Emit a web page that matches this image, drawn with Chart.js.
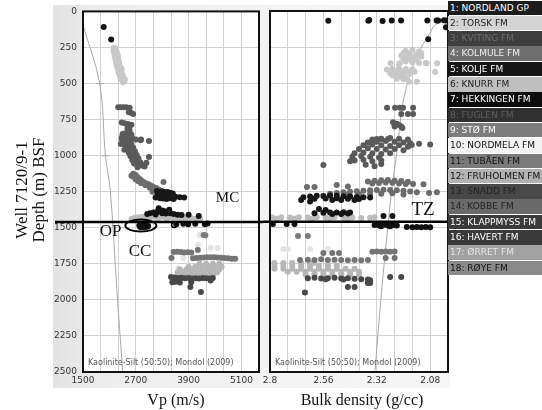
<!DOCTYPE html>
<html>
<head>
<meta charset="utf-8">
<script src="https://cdn.jsdelivr.net/npm/chart.js@4.4.1/dist/chart.umd.min.js"></script>
<style>
  html, body { margin: 0; padding: 0; }
  body { width: 542px; height: 410px; position: relative; overflow: hidden; background: #ffffff; }
  #bg { position: absolute; left: 53px; top: 5px; width: 397px; height: 383px;
        background: linear-gradient(to right, #e2e2e2 0px, #ececec 40px, #f3f3f3 220px, #f6f6f6 397px); }
  #cLeft { position: absolute; left: 0; top: 0; }
  #cRight { position: absolute; left: 263px; top: 0; }
  .ttl { position: absolute; font-family: "Liberation Serif", "Times New Roman", serif; font-size: 17px; color: #111; white-space: nowrap; }
  #legend { position: absolute; left: 448px; top: 0; width: 94px; }
  .lg { position: absolute; left: 0; width: 94px; font-family: "DejaVu Sans", Verdana, sans-serif; font-size: 9px;
        box-sizing: border-box; padding-left: 2px; white-space: nowrap; overflow: hidden; }
</style>
</head>
<body>
<div id="bg"></div>
<canvas id="cLeft" width="263" height="410"></canvas>
<canvas id="cRight" width="279" height="410"></canvas>
<div class="ttl" id="tWell" style="left:22px; top:190px; transform: translate(-50%,-50%) rotate(-90deg);">Well 7120/9-1</div>
<div class="ttl" id="tDepth" style="left:39px; top:190px; transform: translate(-50%,-50%) rotate(-90deg);">Depth (m) BSF</div>
<div class="ttl" style="left:176px; top:400px; transform: translate(-50%,-50%); font-size:16px;">Vp (m/s)</div>
<div class="ttl" style="left:362px; top:400px; transform: translate(-50%,-50%); font-size:16px;">Bulk density (g/cc)</div>
<div id="legend"></div>
<script>
// ---------------- axes / ticks ----------------
const depthTicks = [0, 250, 500, 750, 1000, 1250, 1500, 1750, 2000, 2250, 2500];
const vpGrid = [1500, 1900, 2300, 2700, 3100, 3500, 3900, 4300, 4700, 5100, 5500];
const vpLabels = [1500, 2700, 3900, 5100];
const rhoGrid = [2.0, 2.08, 2.16, 2.24, 2.32, 2.4, 2.48, 2.56, 2.64, 2.72, 2.8];
const rhoLabels = [2.8, 2.56, 2.32, 2.08];
const boundaryDepth = 1460;

// ---------------- legend ----------------
const formationNames = ['1: NORDLAND GP', '2: TORSK FM', '3: KVITING FM', '4: KOLMULE FM', '5: KOLJE FM',
  '6: KNURR FM', '7: HEKKINGEN FM', '8: FUGLEN FM', '9: STØ FM', '10: NORDMELA FM', '11: TUBÅEN FM',
  '12: FRUHOLMEN FM', '13: SNADD FM', '14: KOBBE FM', '15: KLAPPMYSS FM', '16: HAVERT FM', '17: ØRRET FM', '18: RØYE FM'];
const legendFill = ['#1c1c1c', '#d4d4d4', '#3e3e3e', '#6e6e6e', '#161616', '#bfbfbf', '#0c0c0c', '#303030', '#7c7c7c',
  '#f2f2f2', '#7a7a7a', '#b2b2b2', '#484848', '#6a6a6a', '#3a3a3a', '#3a3a3a', '#a2a2a2', '#8a8a8a'];
const legendInk = ['#ffffff', '#222222', '#6e6e6e', '#eeeeee', '#ffffff', '#222222', '#ffffff', '#5e5e5e', '#ffffff',
  '#111111', '#111111', '#111111', '#222222', '#222222', '#ffffff', '#ffffff', '#e4e4e4', '#111111'];

// ---------------- data: [Vp (m/s), depth (m)] and [density (g/cc), depth (m)] ----------------
const nordlandVp = [[1970,109],[2140,194]];
const nordlandRho = [[2.538,67],[2.358,67],[2.354,62],[2.294,70],[2.253,66],[2.211,66],[2.093,65],[2.051,66],[2.044,66],[2.018,64],[2.009,66],[2.009,113],[2.089,196]];

const torskVp = [[2200,252],[2240,258],[2190,268],[2230,275],[2270,282],[2210,290],[2250,298],[2290,305],[2220,312],[2260,320],
  [2300,328],[2240,336],[2280,344],[2320,350],[2250,356],[2290,362],[2270,378],[2310,385],[2350,392],[2290,400],[2330,408],
  [2370,415],[2310,424],[2350,432],[2400,440],[2340,448],[2380,456],[2420,462],[2360,470],[2400,478],[2440,485],[2410,492],
  [2330,372],[2380,400],[2450,470]];
const torskRho = [[2.19,275],[2.16,270],[2.13,280],[2.20,290],[2.17,295],[2.14,300],[2.12,290],[2.21,310],[2.18,315],[2.15,320],
  [2.12,315],[2.20,330],[2.17,335],[2.14,340],[2.16,355],[2.19,350],[2.13,360],[2.22,365],[2.258,362],[2.216,362],[2.096,362],
  [2.049,362],[2.058,422],[2.175,490],[2.14,490],[2.10,360],[2.25,400],[2.22,398],[2.19,402],[2.16,405],[2.24,415],[2.21,420],
  [2.18,418],[2.15,420],[2.26,430],[2.23,435],[2.20,438],[2.17,432],[2.24,450],[2.21,455],[2.19,460],[2.23,470],[2.20,472],
  [2.25,445],[2.275,405]];

const kvitingVp = [[2300,665],[2360,665],[2420,665],[2480,665],[2560,668],[2540,700],[2600,705],[2640,712],[2380,770],[2440,775],
  [2520,780],[2600,785],[2560,800],[2510,810],[2560,825],[2540,840],[2600,855],[2570,870],[2620,880],[2380,885],[2700,888],
  [2820,888],[2400,850],[2460,845],[2520,860],[2380,875],[2440,880],[2500,885],[2560,895],[2420,905],[2480,910],[2540,915],
  [2600,920],[2460,930],[2520,935],[2580,940],[2640,945],[2500,955],[2560,960],[2620,965],[2680,970],[2540,980],[2600,985],
  [2660,990],[2720,995],[2580,1005],[2640,1010],[2700,1015],[2760,1020],[2620,1030],[2680,1035],[2740,1040],[2800,1045],
  [2660,1055],[2720,1060],[2780,1065],[2860,1070],[2740,1080],[2940,1050],[3000,1010],[3000,898],[2810,893],[2900,1075],
  [2360,920],[2440,960]];
const kvitingRho = [[2.274,670],[2.238,670],[2.216,670],[2.202,670],[2.157,670],[2.21,713],[2.18,713],[2.157,713],[2.247,770],
  [2.23,780],[2.22,790],[2.21,800],[2.205,810],[2.24,800],[2.32,887],[2.30,887],[2.27,887],[2.34,890],[2.30,885],[2.26,880],
  [2.22,885],[2.18,890],[2.36,910],[2.32,905],[2.28,900],[2.24,905],[2.20,910],[2.17,915],[2.38,930],[2.34,925],[2.30,930],
  [2.26,935],[2.22,930],[2.18,940],[2.40,955],[2.36,950],[2.32,955],[2.28,960],[2.24,955],[2.20,965],[2.42,985],[2.38,980],
  [2.34,985],[2.30,990],[2.26,985],[2.43,1010],[2.39,1005],[2.35,1010],[2.31,1015],[2.42,1035],[2.38,1030],[2.34,1040],
  [2.30,1035],[2.37,1065],[2.33,1075],[2.30,1060],[2.13,920],[2.08,925],[2.163,928],[2.56,1066],[2.44,1040]];

const kolmuleVp = [[2640,1125],[2700,1135],[2660,1150],[2740,1150],[2780,1160],[2700,1165],[2820,1170],[2760,1178],[2860,1180],
  [2900,1188],[2820,1192],[2960,1195],[3000,1200],[2920,1205],[3060,1210],[3100,1218],[3020,1222],[3160,1225],[3220,1235],
  [3120,1240],[3280,1245],[3340,1252],[3200,1255],[3400,1260],[3460,1266],[3540,1270],[3330,1182],[2600,1140],[3080,1250]];
const kolmuleRho = [[2.36,1180],[2.33,1175],[2.30,1172],[2.27,1170],[2.24,1175],[2.21,1178],[2.18,1182],[2.34,1195],[2.31,1192],
  [2.28,1188],[2.25,1190],[2.22,1195],[2.19,1198],[2.53,1265],[2.50,1260],[2.47,1255],[2.44,1252],[2.41,1248],[2.38,1245],
  [2.35,1242],[2.32,1240],[2.29,1238],[2.26,1240],[2.23,1242],[2.20,1245],[2.17,1250],[2.14,1255],[2.45,1275],[2.40,1270],
  [2.35,1268],[2.30,1265],[2.25,1262],[2.20,1270],[2.157,1198],[2.11,1200],[2.085,1260],[2.05,1255],[2.634,1219],[2.60,1219],
  [2.50,1205],[2.45,1215]];

const koljeVp = [[3180,1245],[3240,1250],[3300,1248],[3360,1255],[3420,1252],[3480,1258],[3540,1262],[3200,1270],[3260,1272],
  [3320,1275],[3380,1278],[3440,1280],[3500,1282],[3600,1285],[3700,1288],[3800,1290],[3250,1295],[3320,1298],[3400,1300],
  [3470,1296],[3150,1290],[3560,1300]];
const koljeRho = [[2.65,1290],[2.62,1285],[2.59,1280],[2.56,1282],[2.53,1278],[2.50,1280],[2.47,1283],[2.44,1285],[2.41,1288],
  [2.38,1290],[2.35,1292],[2.60,1300],[2.55,1298],[2.50,1296],[2.45,1300],[2.40,1302],[2.66,1309],[2.52,1309],[2.48,1309],
  [2.42,1309],[2.58,1371],[2.62,1320]];

const knurrVp = [[2680,1430],[2760,1428],[2840,1425],[2920,1422],[3000,1420],[3080,1422],[3160,1425],[3240,1428],[3320,1425],
  [3400,1430],[3480,1428],[3560,1432],[3640,1430],[3720,1435],[3800,1432],[3880,1436],[3960,1434],[4060,1438],[4160,1436],
  [2800,1438],[3000,1436],[3200,1438],[3400,1440],[2600,1440]];
const knurrRho = [[2.79,1430],[2.75,1428],[2.71,1430],[2.67,1428],[2.63,1430],[2.59,1428],[2.55,1432],[2.51,1430],[2.47,1432],
  [2.43,1430],[2.39,1433],[2.35,1432],[2.77,1438],[2.69,1437],[2.61,1438],[2.53,1437],[2.45,1438],[2.33,1428]];

const hekkingenVp = [[2960,1405],[3020,1400],[3100,1395],[3180,1390],[3220,1365],[3240,1385],[3300,1380],[3360,1385],[3420,1390],
  [3300,1400],[3380,1402],[3480,1400],[3560,1405],[3650,1410],[3740,1412],[3900,1410],[4130,1418],[3150,1408],[3460,1375]];
const hekkingenRho = [[2.60,1400],[2.55,1378],[2.56,1398],[2.53,1396],[2.50,1395],[2.47,1394],[2.44,1396],[2.52,1405],[2.48,1405],
  [2.45,1403],[2.29,1420],[2.25,1420]];

const fuglenVp = [[2780,1485],[2830,1480],[2880,1482],[2930,1485],[2980,1488],[2800,1495],[2860,1495],[2920,1495],[2960,1492],
  [2850,1488],[2900,1490],[3620,1475],[3780,1472],[3890,1475],[4050,1472],[4270,1475],[4330,1470]];
const fuglenRho = [[2.33,1482],[2.31,1485],[2.29,1482],[2.27,1486],[2.25,1483],[2.23,1485],[2.185,1495],[2.16,1497],[2.14,1495],
  [2.12,1498],[2.10,1496],[2.08,1497],[2.30,1490],[2.26,1490],[2.787,1475],[2.725,1475],[2.69,1475]];

const stoVp = [[4240,1550],[4280,1552]];
const stoRho = [[2.674,1558],[2.63,1558]];

const nordmelaVp = [[4150,1551],[4115,1620],[4405,1641],[4560,1641],[3780,1710],[3670,1780]];
const nordmelaRho = [[2.74,1648],[2.72,1648],[2.62,1648],[2.54,1648]];

const tubaenVp = [[3560,1668],[3640,1666],[3720,1668],[3800,1672],[3880,1670],[3960,1672],[4110,1655],[3510,1710],[4000,1712],
  [4080,1710],[4160,1708],[4240,1706],[4320,1705],[4400,1704],[4480,1705],[4560,1706],[4640,1708],[4720,1710],[4800,1712],
  [4880,1714],[4960,1715]];
const tubaenRho = [[2.34,1667],[2.32,1665],[2.30,1667],[2.28,1665],[2.26,1667],[2.24,1665],[2.56,1676],[2.52,1676],[2.49,1676],
  [2.665,1724],[2.63,1722],[2.60,1724],[2.57,1720],[2.54,1724],[2.51,1722],[2.48,1724],[2.45,1726],[2.42,1724],[2.39,1726],
  [2.36,1724],[2.28,1710],[2.24,1710]];

const fruholmenVp = [[4150,1750],[4300,1750],[4450,1750],[4600,1750],[3900,1770],[4050,1770],[4200,1770],[4350,1770],[4500,1770],
  [4650,1770],[3700,1790],[3850,1790],[4000,1790],[4150,1790],[4300,1790],[4450,1790],[4600,1790],[3650,1810],[3800,1810],
  [3950,1810],[4100,1810],[4250,1810],[4400,1810],[4550,1810],[3700,1830],[3850,1830],[4000,1830],[4150,1830],[4300,1830],
  [4450,1830],[3800,1850],[3950,1850],[4100,1850],[4250,1850],[4400,1850]];
const fruholmenRho = [[2.78,1745],[2.74,1745],[2.70,1745],[2.66,1745],[2.62,1745],[2.60,1745],[2.78,1765],[2.74,1765],[2.70,1765],
  [2.66,1765],[2.62,1765],[2.58,1765],[2.54,1765],[2.50,1765],[2.78,1785],[2.74,1785],[2.70,1785],[2.66,1785],[2.62,1785],
  [2.58,1785],[2.54,1785],[2.50,1785],[2.46,1785],[2.42,1785],[2.72,1805],[2.68,1805],[2.64,1805],[2.60,1805],[2.56,1805],
  [2.52,1805],[2.48,1805],[2.44,1805],[2.40,1805],[2.64,1825],[2.60,1825],[2.56,1825],[2.52,1825],[2.48,1825],[2.44,1825],[2.40,1825]];

const snaddVp = [[3500,1842],[3580,1845],[3660,1848],[3740,1846],[3820,1850],[3900,1848],[3980,1852],[4060,1850],[4140,1852],
  [4220,1848],[4300,1850],[4380,1852],[4450,1848],[3530,1877],[3600,1875],[3700,1880],[3960,1877],[3940,1911],[4180,1946],[4400,1865]];
const snaddRho = [[2.63,1850],[2.60,1848],[2.57,1852],[2.54,1850],[2.51,1848],[2.48,1852],[2.45,1850],[2.42,1855],[2.39,1858],
  [2.36,1860],[2.35,1865],[2.55,1858],[2.47,1860],[2.26,1842],[2.21,1842],[2.45,1911],[2.42,1911],[2.36,1884],[2.35,1884],[2.643,1950]];

// Kaolinite-Silt (50:50) compaction trends, Mondol (2009)
const trendVp = [[1500,95],[1880,500],[2010,1000],[2120,1240],[2270,1930],[2400,2490]];
const trendRho = [[2.0,58],[2.028,74],[2.06,100],[2.081,152],[2.141,316],[2.186,524],[2.208,686],[2.23,983],[2.253,1240],[2.298,1932],[2.328,2490]];

// ---------------- series table built from the arrays ----------------
const series = [
  { name: 'NORDLAND GP', color: '#141414', vp: nordlandVp, rho: nordlandRho },
  { name: 'FUGLEN FM', color: '#101010', vp: fuglenVp, rho: fuglenRho },
  { name: 'HEKKINGEN FM', color: '#141414', vp: hekkingenVp, rho: hekkingenRho },
  { name: 'KOLJE FM', color: '#181818', vp: koljeVp, rho: koljeRho },
  { name: 'SNADD FM', color: '#484848', vp: snaddVp, rho: snaddRho },
  { name: 'TUBÅEN FM', color: '#747474', vp: tubaenVp, rho: tubaenRho },
  { name: 'STØ FM', color: '#7a7a7a', vp: stoVp, rho: stoRho },
  { name: 'KVITING FM', color: '#5a5a5a', vp: kvitingVp, rho: kvitingRho },
  { name: 'KOLMULE FM', color: '#6c6c6c', vp: kolmuleVp, rho: kolmuleRho },
  { name: 'TORSK FM', color: '#c8c8c8', vp: torskVp, rho: torskRho },
  { name: 'KNURR FM', color: '#bcbcbc', vp: knurrVp, rho: knurrRho },
  { name: 'FRUHOLMEN FM', color: '#b6b6b6', vp: fruholmenVp, rho: fruholmenRho },
  { name: 'NORDMELA FM', color: '#e4e4e4', vp: nordmelaVp, rho: nordmelaRho }
];

const toXY = arr => arr.map(p => ({ x: p[0], y: p[1] }));

// ---------------- legend DOM ----------------
(function buildLegend() {
  const box = document.getElementById('legend');
  formationNames.forEach((n, i) => {
    const d = document.createElement('div');
    d.className = 'lg';
    d.style.top = (0.5 + i * 15.3) + 'px';
    d.style.height = '14.5px';
    d.style.lineHeight = '14.5px';
    d.style.background = legendFill[i];
    d.style.color = legendInk[i];
    d.textContent = n;
    box.appendChild(d);
  });
})();

// ---------------- shared helpers ----------------
const gridColor = '#d2d2d2';
const tickFont = { family: 'DejaVu Sans, Verdana, sans-serif', size: 9 };

const framePlugin = {
  id: 'frame',
  afterDatasetsDraw(chart, args, opts) {
    const { ctx, chartArea: a, scales } = chart;
    ctx.save();
    // boundary line
    const yb = scales.y.getPixelForValue(boundaryDepth);
    ctx.strokeStyle = '#000';
    ctx.lineWidth = 2.5;
    ctx.beginPath();
    ctx.moveTo(opts.lineFrom, yb);
    ctx.lineTo(a.right + opts.lineExtra, yb);
    ctx.stroke();
    // annotations
    (opts.marks || []).forEach(m => {
      ctx.font = m.size + 'px "Liberation Serif", "Times New Roman", serif';
      ctx.fillStyle = '#111';
      ctx.textAlign = 'center';
      ctx.textBaseline = 'middle';
      ctx.fillText(m.text, scales.x.getPixelForValue(m.x), scales.y.getPixelForValue(m.y));
    });
    (opts.ellipses || []).forEach(e => {
      ctx.beginPath();
      ctx.lineWidth = 2;
      ctx.ellipse(scales.x.getPixelForValue(e.x), scales.y.getPixelForValue(e.y), e.rx, e.ry, 0, 0, Math.PI * 2);
      ctx.stroke();
    });
    (opts.rings || []).forEach(r => {
      ctx.beginPath();
      ctx.lineWidth = 1.5;
      ctx.arc(scales.x.getPixelForValue(r.x), scales.y.getPixelForValue(r.y), r.r, 0, Math.PI * 2);
      ctx.stroke();
    });
    // model caption
    ctx.font = '8px "DejaVu Sans", Verdana, sans-serif';
    ctx.fillStyle = '#555';
    ctx.textAlign = 'left';
    ctx.textBaseline = 'middle';
    ctx.fillText('Kaolinite-Silt (50:50); Mondol (2009)', a.left + 5, a.bottom - 9);
    // frame
    ctx.lineWidth = 2;
    ctx.strokeStyle = '#111';
    ctx.strokeRect(a.left, a.top, a.right - a.left, a.bottom - a.top);
    ctx.restore();
  }
};

const whiteArea = {
  id: 'whiteArea',
  beforeDraw(chart) {
    const { ctx, chartArea: a } = chart;
    ctx.save();
    ctx.fillStyle = '#ffffff';
    ctx.fillRect(a.left, a.top, a.right - a.left, a.bottom - a.top);
    ctx.restore();
  }
};

function buildDatasets(key, trend, trendRadius) {
  const ds = series.map(s => ({
    label: s.name,
    data: toXY(s[key]),
    backgroundColor: s.color,
    borderWidth: 0,
    pointRadius: 3,
    showLine: false
  }));
  ds.push({
    label: 'Kaolinite-Silt (50:50); Mondol (2009)',
    data: toXY(trend),
    showLine: true,
    borderColor: '#a8a8a8',
    borderWidth: 1,
    pointRadius: trendRadius,
    pointStyle: 'line',
    pointBorderColor: '#a8a8a8',
    pointBorderWidth: 1,
    tension: 0.35,
    fill: false
  });
  return ds;
}

const yScaleBase = {
  type: 'linear', min: 0, max: 2500, reverse: true,
  afterBuildTicks: s => { s.ticks = depthTicks.map(v => ({ value: v })); },
  grid: { color: gridColor, drawTicks: false },
  border: { display: false }
};

// ---------------- left chart: Vp ----------------
new Chart(document.getElementById('cLeft'), {
  type: 'scatter',
  data: { datasets: buildDatasets('vp', trendVp, [0, 4, 4, 0, 0, 0]) },
  options: {
    responsive: false, animation: false, events: [],
    layout: { padding: { left: 53, right: 1, top: 11, bottom: 18 } },
    plugins: {
      legend: { display: false }, tooltip: { enabled: false },
      frame: {
        lineFrom: 55, lineExtra: 6,
        marks: [
          { text: 'MC', x: 4785, y: 1295, size: 15 },
          { text: 'OP', x: 2126, y: 1523, size: 17 },
          { text: 'CC', x: 2796, y: 1662, size: 17 }
        ],
        ellipses: [{ x: 2815, y: 1485, rx: 15.5, ry: 6 }],
        rings: [{ x: 3570, y: 1480, r: 2.5 }]
      }
    },
    scales: {
      x: {
        type: 'linear', min: 1500, max: 5500,
        afterBuildTicks: s => { s.ticks = vpGrid.map(v => ({ value: v })); },
        afterFit: s => { s.height = 20; },
        ticks: { autoSkip: false, maxRotation: 0, padding: 3, color: '#333', font: tickFont,
                 callback: v => vpLabels.includes(v) ? String(v) : '' },
        grid: { color: gridColor, drawTicks: false },
        border: { display: false }
      },
      y: Object.assign({}, yScaleBase, {
        afterFit: s => { s.width = 30; },
        ticks: { padding: 6, color: '#333', font: tickFont, callback: v => String(v) }
      })
    }
  },
  plugins: [whiteArea, framePlugin]
});

// ---------------- right chart: bulk density ----------------
new Chart(document.getElementById('cRight'), {
  type: 'scatter',
  data: { datasets: buildDatasets('rho', trendRho, 0) },
  options: {
    responsive: false, animation: false, events: [],
    layout: { padding: { left: 7, right: 94, top: 11, bottom: 18 } },
    plugins: {
      legend: { display: false }, tooltip: { enabled: false },
      frame: {
        lineFrom: 0, lineExtra: 2,
        marks: [{ text: 'TZ', x: 2.112, y: 1378, size: 19 }],
        ellipses: [], rings: []
      }
    },
    scales: {
      x: {
        type: 'linear', min: 2.0, max: 2.8, reverse: true,
        afterBuildTicks: s => { s.ticks = rhoGrid.map(v => ({ value: v })); },
        afterFit: s => { s.height = 20; },
        ticks: { autoSkip: false, maxRotation: 0, padding: 3, color: '#333', font: tickFont,
                 callback: v => rhoLabels.some(l => Math.abs(l - v) < 1e-6) ? String(v) : '' },
        grid: { color: gridColor, drawTicks: false },
        border: { display: false }
      },
      y: Object.assign({}, yScaleBase, {
        afterFit: s => { s.width = 0; },
        ticks: { display: false }
      })
    }
  },
  plugins: [whiteArea, framePlugin]
});
</script>
</body>
</html>
